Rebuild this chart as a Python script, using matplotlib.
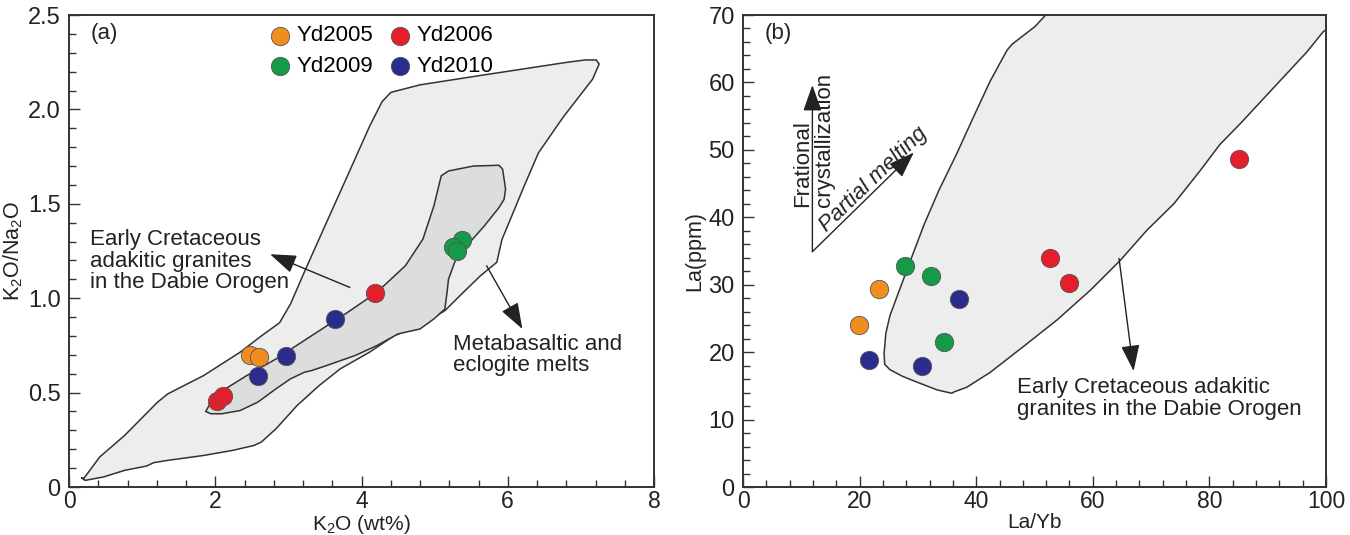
import matplotlib
matplotlib.use("Agg")
import matplotlib.pyplot as plt
from matplotlib.patches import Polygon
from matplotlib.ticker import MultipleLocator, FixedLocator

plt.rcParams["font.family"] = ["Liberation Sans", "DejaVu Sans"]
plt.rcParams["mathtext.default"] = "regular"

# ---------------- data ----------------
samples = ["Yd2005", "Yd2006", "Yd2009", "Yd2010"]
colors = {"Yd2005": "#EF8E1F", "Yd2006": "#E41E2B", "Yd2009": "#159A47", "Yd2010": "#2A2D8B"}

# panel (a): K2O (wt%) vs K2O/Na2O
a_k2o = {
    "Yd2005": [2.47, 2.60],
    "Yd2006": [2.03, 2.11, 4.18],
    "Yd2009": [5.37, 5.25, 5.30],
    "Yd2010": [2.59, 2.97, 3.64],
}
a_ratio = {
    "Yd2005": [0.70, 0.686],
    "Yd2006": [0.454, 0.48, 1.03],
    "Yd2009": [1.31, 1.27, 1.25],
    "Yd2010": [0.59, 0.694, 0.889],
}
# panel (b): La/Yb vs La (ppm)
b_layb = {
    "Yd2005": [19.9, 23.4],
    "Yd2006": [52.6, 56.0, 85.1],
    "Yd2009": [27.8, 32.2, 34.4],
    "Yd2010": [21.6, 30.7, 37.1],
}
b_la = {
    "Yd2005": [24.0, 29.3],
    "Yd2006": [33.9, 30.3, 48.6],
    "Yd2009": [32.8, 31.3, 21.5],
    "Yd2010": [18.8, 17.9, 27.9],
}

# field outlines
outer_a_x = [0.20, 0.42, 0.76, 1.21, 1.35, 1.84, 2.34, 2.63, 2.88, 3.03, 3.22, 3.52, 3.81, 4.11, 4.28, 4.40,
             4.80, 5.63, 6.82, 7.06, 7.21, 7.25, 7.16, 6.76, 6.42, 6.22, 6.07, 5.92, 5.85, 5.63, 5.39, 5.14,
             4.80, 4.45, 4.11, 3.71, 3.42, 3.12, 2.83, 2.63, 2.53, 2.24, 1.84, 1.35, 1.16, 1.06, 0.76, 0.47,
             0.22, 0.17]
outer_a_y = [0.044, 0.159, 0.273, 0.449, 0.493, 0.590, 0.714, 0.800, 0.870, 0.970, 1.140, 1.400, 1.650, 1.910,
             2.040, 2.090, 2.130, 2.180, 2.250, 2.262, 2.262, 2.240, 2.160, 1.960, 1.770, 1.590, 1.450, 1.310,
             1.190, 1.120, 1.030, 0.934, 0.855, 0.802, 0.714, 0.626, 0.537, 0.432, 0.308, 0.238, 0.220,
             0.194, 0.167, 0.141, 0.129, 0.111, 0.088, 0.053, 0.035, 0.050]
inner_a_x = [1.89, 1.94, 2.14, 2.43, 2.83, 3.32, 3.81, 4.21, 4.60, 4.84, 4.99, 5.09, 5.19, 5.53, 5.88, 5.93,
             5.97, 5.95, 5.88, 5.68, 5.44, 5.29, 5.19, 5.17, 5.14, 4.99, 4.80, 4.50, 4.21, 3.91, 3.52, 3.32,
             3.22, 3.03, 2.83, 2.58, 2.34, 2.09, 1.94, 1.87]
inner_a_y = [0.414, 0.449, 0.520, 0.590, 0.678, 0.802, 0.925, 1.031, 1.172, 1.313, 1.489, 1.648, 1.674, 1.700,
             1.704, 1.683, 1.577, 1.524, 1.480, 1.383, 1.278, 1.207, 1.101, 1.031, 0.943, 0.890, 0.837, 0.811,
             0.749, 0.696, 0.643, 0.617, 0.608, 0.573, 0.520, 0.449, 0.405, 0.388, 0.388, 0.400]
field_b_x = [24.2, 24.5, 25.2, 26.7, 28.9, 31.1, 33.6, 36.7, 39.6, 42.4, 45.3, 46.2, 50.1, 53.5, 102.0, 102.0,
             99.5, 96.7, 91.0, 85.2, 81.8, 78.4, 73.9, 69.3, 64.7, 59.6, 53.9, 48.2, 42.4, 38.4, 36.2, 35.8,
             33.3, 30.3, 27.4, 25.2, 24.3]
field_b_y = [19.8, 22.8, 25.4, 28.9, 34.0, 39.0, 44.0, 49.5, 55.0, 60.2, 64.8, 65.7, 68.3, 71.5, 71.5, 69.0,
             67.5, 64.5, 59.2, 53.8, 50.8, 46.9, 42.0, 38.1, 33.6, 29.2, 24.8, 20.9, 17.0, 14.8, 14.1, 13.9,
             14.4, 15.4, 16.4, 17.4, 18.2]

# ---------------- figure ----------------
fig = plt.figure(figsize=(13.5, 5.35), dpi=100)
axa = fig.add_axes([69 / 1350, 48 / 535, 585 / 1350, 472 / 535])
axb = fig.add_axes([743 / 1350, 48 / 535, 583 / 1350, 472 / 535])

MS = 175
TXT = 16
INK = "#222"


def style(ax, xmaj, xmin, ymaj, ymin, xl, yl, xlabels, ylabels):
    ax.xaxis.set_major_locator(FixedLocator(xmaj))
    ax.yaxis.set_major_locator(FixedLocator(ymaj))
    ax.xaxis.set_minor_locator(MultipleLocator(xmin))
    ax.yaxis.set_minor_locator(MultipleLocator(ymin))
    ax.set_xticklabels(xlabels, fontsize=16.5, color=INK)
    ax.set_yticklabels(ylabels, fontsize=17, color=INK)
    ax.tick_params(which="both", direction="in", top=False, right=False, color="#333", width=1.0)
    ax.tick_params(axis="x", which="major", length=8, pad=2)
    ax.tick_params(axis="y", which="major", length=8, pad=6)
    ax.tick_params(which="minor", length=5)
    for s in ax.spines.values():
        s.set_linewidth(1.4)
        s.set_color("#333")
    ax.set_xlabel(xl, fontsize=15, color=INK, labelpad=0)
    ax.set_ylabel(yl, fontsize=15.5, color=INK, labelpad=2)


arrow_kw = dict(arrowstyle="-|>,head_length=0.9,head_width=0.32", mutation_scale=18,
                color=INK, lw=1.0, shrinkA=0, shrinkB=0)

# ---- panel (a)
axa.set_xlim(0, 8)
axa.set_ylim(0, 2.5)
axa.add_patch(Polygon(list(zip(outer_a_x, outer_a_y)), closed=True, facecolor="#EDEDED",
                      edgecolor="#333", lw=1.1, zorder=1))
axa.add_patch(Polygon(list(zip(inner_a_x, inner_a_y)), closed=True, facecolor="#DCDDDD",
                      edgecolor="#333", lw=1.1, zorder=2))
handles = {}
for s in samples:
    handles[s] = axa.scatter(a_k2o[s], a_ratio[s], s=MS, c=colors[s], edgecolors="#555",
                             linewidths=0.6, zorder=5, label=s)
order = ["Yd2005", "Yd2009", "Yd2006", "Yd2010"]
axa.legend([handles[k] for k in order], order, ncol=2, loc="upper left",
           bbox_to_anchor=(0.345, 0.978), frameon=False, fontsize=TXT, handletextpad=0.35,
           columnspacing=0.8, labelspacing=0.42, borderaxespad=0, borderpad=0, handlelength=0.8)
axa.text(0.06, 0.96, "(a)", transform=axa.transAxes, ha="center", va="center", fontsize=TXT, color=INK)
axa.text(0.29, 1.197, "Early Cretaceous\nadakitic granites\nin the Dabie Orogen", fontsize=TXT,
         ha="left", va="center", linespacing=1.05, color=INK, zorder=6)
axa.annotate("", xy=(2.75, 1.233), xytext=(3.84, 1.057), arrowprops=arrow_kw, zorder=6)
axa.text(5.25, 0.699, "Metabasaltic and\neclogite melts", fontsize=TXT, ha="left", va="center",
         linespacing=1.05, color=INK)
axa.annotate("", xy=(6.20, 0.837), xytext=(5.71, 1.172), arrowprops=arrow_kw, zorder=6)
style(axa, [0, 2, 4, 6, 8], 0.4, [0, 0.5, 1.0, 1.5, 2.0, 2.5], 0.1,
      "K$_2$O (wt%)", "K$_2$O/Na$_2$O", ["0", "2", "4", "6", "8"], ["0", "0.5", "1.0", "1.5", "2.0", "2.5"])

# ---- panel (b)
axb.set_xlim(0, 100)
axb.set_ylim(0, 70)
axb.add_patch(Polygon(list(zip(field_b_x, field_b_y)), closed=True, facecolor="#EDEDED",
                      edgecolor="#333", lw=1.1, zorder=1))
for s in samples:
    axb.scatter(b_layb[s], b_la[s], s=MS, c=colors[s], edgecolors="#555", linewidths=0.6, zorder=5)
axb.text(0.06, 0.96, "(b)", transform=axb.transAxes, ha="center", va="center", fontsize=TXT, color=INK)
axb.annotate("", xy=(11.9, 59.6), xytext=(11.9, 34.9), arrowprops=arrow_kw)
axb.annotate("", xy=(29.3, 49.6), xytext=(11.9, 34.9), arrowprops=arrow_kw)
axb.text(12.1, 41.5, "Frational\ncrystallization", rotation=90, ha="center", va="bottom",
         multialignment="left", fontsize=TXT, linespacing=1.05, color=INK)
axb.text(22.4, 45.6, "Partial melting", rotation=44, ha="center", va="center", fontsize=TXT,
         color=INK, style="italic")
axb.annotate("", xy=(67.0, 17.2), xytext=(64.5, 33.9), arrowprops=arrow_kw)
axb.text(47.0, 13.1, "Early Cretaceous adakitic\ngranites in the Dabie Orogen", fontsize=TXT,
         ha="left", va="center", linespacing=1.05, color=INK)
style(axb, [0, 20, 40, 60, 80, 100], 4, [0, 10, 20, 30, 40, 50, 60, 70], 2,
      "La/Yb", "La(ppm)", ["0", "20", "40", "60", "80", "100"],
      ["0", "10", "20", "30", "40", "50", "60", "70"])

fig.savefig("out.png", dpi=100)
